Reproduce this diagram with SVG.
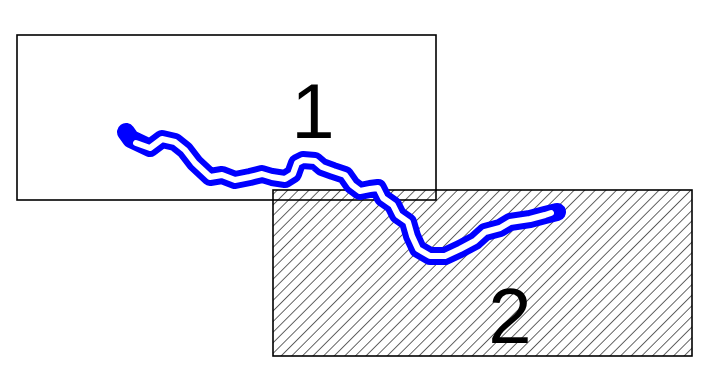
<svg xmlns="http://www.w3.org/2000/svg" width="716" height="383" viewBox="0 0 716 383">
<style>
.box{fill:none;stroke:#000;stroke-width:1.6}
.hatched{fill:url(#hatch)}
.lbl{font-family:"Liberation Sans",Arial,sans-serif;font-size:78px;fill:#000;text-anchor:middle}
.bank{fill:none;stroke:#0000ff;stroke-width:18;stroke-linejoin:round;stroke-linecap:round}
.water{fill:none;stroke:#fff;stroke-width:6;stroke-linejoin:round;stroke-linecap:round}
</style>
<defs>
<pattern id="hatch" patternUnits="userSpaceOnUse" width="7.5" height="7.5" patternTransform="rotate(45)">
<rect width="7.5" height="7.5" fill="#fff"/>
<line x1="0" y1="0" x2="0" y2="7.5" stroke="#111" stroke-width="1.3"/>
</pattern>
</defs>
<g id="area2">
<rect x="273" y="190" width="419" height="166" class="box hatched"/>
</g>
<g id="area1">
<rect x="17" y="35" width="419" height="165" class="box"/>
</g>
<g id="connectors">
<path id="river-bank" class="bank" d="M126,132 L131,139 L150,148 L162,139 L175,142 L185,150 L195,163 L210,177 L222,175 L235,180 L250,177 L262,174 L272,177 L285,179 L293,174 L297,163 L303,160 L315,161 L322,167 L333,171 L345,175 L352,185 L360,191 L370,189 L378,188 L383,198 L393,205 L398,215 L408,222 L412,236 L418,249 L430,256 L445,256 L460,249 L475,241 L485,232 L500,228 L510,222 L530,219 L545,215 L557,212"/>
<path id="river-water" class="water" d="M136,143 L150,148 L162,139 L175,142 L185,150 L195,163 L210,177 L222,175 L235,180 L250,177 L262,174 L272,177 L285,179 L293,174 L297,163 L303,160 L315,161 L322,167 L333,171 L345,175 L352,185 L360,191 L370,189 L378,188 L383,198 L393,205 L398,215 L408,222 L412,236 L418,249 L430,256 L445,256 L460,249 L475,241 L485,232 L500,228 L510,222 L530,219 L545,215 L551,213"/>
</g>
<g id="label1"><text class="lbl" x="313" y="138">1</text></g>
<g id="label2"><text class="lbl" x="510" y="343">2</text></g>
</svg>
